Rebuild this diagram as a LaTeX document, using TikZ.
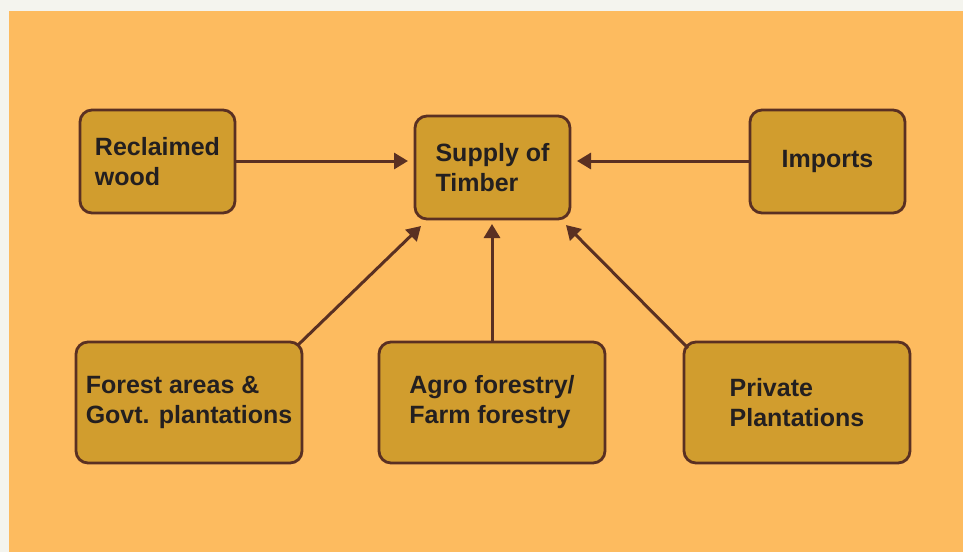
\documentclass[tikz,border=0pt]{standalone}
\usepackage{fontspec}
\setmainfont{Liberation Sans}
\usetikzlibrary{arrows.meta}
\definecolor{pagebg}{HTML}{F4F4EE}
\definecolor{orangebg}{HTML}{FDBB5F}
\definecolor{boxfill}{HTML}{D19D2E}
\definecolor{boxline}{HTML}{5A3022}
\definecolor{txt}{HTML}{231F20}
\tikzset{
  box/.style={draw=boxline, fill=boxfill, line width=2.8pt, rounded corners=12pt,
    align=left, text=txt, font=\fontsize{25}{30}\selectfont\bfseries, inner sep=0pt},
  conn/.style={draw=boxline, line width=3pt, -{Triangle[length=14pt,width=16pt]}}
}
\begin{document}
\begin{tikzpicture}[x=1pt,y=-1pt]
\useasboundingbox (0,0) rectangle (963,552);
\fill[pagebg] (0,0) rectangle (963,552);
\fill[orangebg] (9,11) rectangle (963,552);
\node[box, minimum width=155pt, minimum height=103pt] (rec) at (157.5,161.5) {Reclaimed\\wood};
\node[box, minimum width=155pt, minimum height=103pt] (sup) at (492.5,167.5) {Supply of\\Timber};
\node[box, minimum width=155pt, minimum height=103pt] (imp) at (827.5,161.5) {Imports};
\node[box, minimum width=226pt, minimum height=121pt] (for) at (189,402.5) {Forest areas \&\\Govt. plantations};
\node[box, minimum width=226pt, minimum height=121pt] (agr) at (492,402.5) {Agro forestry/\\Farm forestry};
\node[box, minimum width=226pt, minimum height=121pt] (pri) at (797,402.5) {\raisebox{-3pt}{Private}\\\raisebox{-3pt}{Plantations}};
\coordinate (a1) at (408,161);
\coordinate (a2) at (577,161);
\coordinate (a3) at (421,226);
\coordinate (a4) at (492,224);
\coordinate (a5) at (566,225);
\coordinate (s3) at (298,345);
\coordinate (s5) at (688,348);
\draw[conn] (rec.east |- a1) -- (a1);
\draw[conn] (imp.west |- a2) -- (a2);
\draw[conn] (s3) -- (a3);
\draw[conn] (agr.north) -- (a4);
\draw[conn] (s5) -- (a5);
\end{tikzpicture}
\end{document}
